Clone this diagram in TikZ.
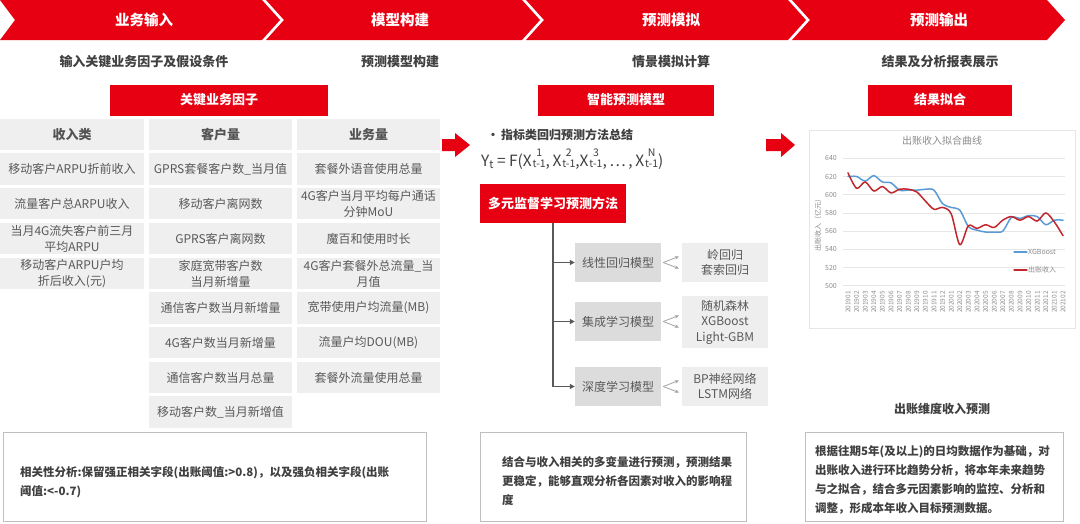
\documentclass[tikz,border=0pt]{standalone}
\usepackage{fontspec}
\setmainfont{Noto Sans CJK SC}
\usetikzlibrary{arrows.meta}
\definecolor{hred}{HTML}{E60012}
\definecolor{cellgray}{HTML}{EFEFEF}
\definecolor{modelgray}{HTML}{DCDCDC}
\definecolor{rgray}{HTML}{EEEEEE}
\definecolor{txtgray}{HTML}{595959}
\definecolor{darkt}{HTML}{404040}
\definecolor{bordergray}{HTML}{BFBFBF}
\definecolor{cblue}{HTML}{5B9BD5}
\definecolor{cred}{HTML}{C1272D}
\definecolor{gridgray}{HTML}{E6E6E6}
\definecolor{axgray}{HTML}{8C8C8C}
\newcommand\xsub[1]{X\hspace{0.8pt}{\fontsize{10.5}{10.5}\selectfont\setbox0\hbox{t-1}\rlap{\hbox to \wd0{\hss\raisebox{9.5pt}{#1}\hss}}\raisebox{-1.8pt}{t-1}}}
\tikzset{
  chev/.style={fill=hred, draw=none},
  hdr/.style={text=white, font=\fontsize{14.5}{16}\selectfont\bfseries},
  subt/.style={text=darkt, font=\fontsize{13}{15}\selectfont\bfseries},
  redbox/.style={fill=hred, text=white, font=\fontsize{13}{15}\selectfont\bfseries, inner sep=0pt, minimum height=31pt},
  cell/.style={fill=cellgray, text=txtgray, minimum height=31.5pt, inner sep=1pt, align=center, font=\fontsize{12}{16}\selectfont},
  c1/.style={cell, minimum width=144pt},
  c2/.style={cell, minimum width=143pt},
  headcell/.style={font=\fontsize{13}{16}\selectfont\bfseries, text=darkt!90},
  blockarrow/.style={fill=hred, draw=none},
  model/.style={fill=modelgray, text=txtgray, minimum width=86pt, minimum height=39pt, inner sep=1pt, font=\fontsize{12}{15}\selectfont},
  rbox/.style={fill=rgray, text=txtgray, minimum width=86pt, inner sep=1pt, align=center, font=\fontsize{12}{15.5}\selectfont},
  trunk/.style={draw=txtgray, line width=1.3pt},
  trunkarrow/.style={trunk, -{Triangle[length=5pt,width=5pt]}},
  thinarrow/.style={draw=axgray!80, line width=0.8pt, -{Stealth[length=4pt,width=3.5pt]}},
  bbox/.style={draw=bordergray, line width=0.9pt, fill=white, inner sep=0pt},
  btext/.style={text=darkt, align=left, font=\fontsize{11.5}{19}\selectfont\bfseries, inner sep=0pt, anchor=west},
  ylab/.style={text=axgray, font=\fontsize{7}{8}\selectfont, inner sep=0pt},
  xlab/.style={text=axgray, font=\fontsize{6.5}{7}\selectfont, inner sep=0pt, rotate=90, anchor=east},
  series/.style={line width=1.5pt, line join=round, line cap=round},
}
\begin{document}
\begin{tikzpicture}[x=1pt,y=-1pt]
\useasboundingbox (0,0) rectangle (1080,523);
\fill[white] (0,0) rectangle (1080,523);
% header chevrons
\path[chev] (0,0) -- (262,0) -- (280,20) -- (262,40) -- (0,40) -- (15,20) -- cycle;
\path[chev] (266,0) -- (522,0) -- (540,20) -- (522,40) -- (266,40) -- (284,20) -- cycle;
\path[chev] (526,0) -- (788,0) -- (806,20) -- (788,40) -- (526,40) -- (544,20) -- cycle;
\path[chev] (792,0) -- (1047,0) -- (1065,20) -- (1047,40) -- (792,40) -- (810,20) -- cycle;
\node[hdr] (h1) at (144,20) {业务输入};
\node[hdr] (h2) at (400,20) {模型构建};
\node[hdr] (h3) at (671,20) {预测模拟};
\node[hdr] (h4) at (939,20) {预测输出};
% subtitles
\node[subt] (s1) at (144,62) {输入关键业务因子及假设条件};
\node[subt] (s2) at (400,62) {预测模型构建};
\node[subt] (s3) at (671,62) {情景模拟计算};
\node[subt] (s4) at (940,62) {结果及分析报表展示};
% red title boxes
\node[redbox, minimum width=218pt] (r1) at (219,100) {关键业务因子};
\node[redbox, minimum width=176pt] (r2) at (626,100) {智能预测模型};
\node[redbox, minimum width=144pt] (r3) at (940,100) {结果拟合};
% table
\node[c1, headcell] (a0) at (72,134.5) {收入类};
\node[c1] (a1) at (72,169) {移动客户ARPU折前收入};
\node[c1] (a2) at (72,203.5) {流量客户总ARPU收入};
\node[c1] (a3) at (72,238.5) {当月4G流失客户前三月\\平均ARPU};
\node[c1] (a4) at (72,273.5) {移动客户ARPU户均\\折后收入(元)};
\node[c2, headcell] (b0) at (220.5,134.5) {客户量};
\node[c2] (b1) at (220.5,169) {GPRS套餐客户数\_当月值};
\node[c2] (b2) at (220.5,203.5) {移动客户离网数};
\node[c2] (b3) at (220.5,238.5) {GPRS客户离网数};
\node[c2] (b4) at (220.5,273.5) {家庭宽带客户数\\当月新增量};
\node[c2] (b5) at (220.5,308) {通信客户数当月新增量};
\node[c2] (b6) at (220.5,342.5) {4G客户数当月新增量};
\node[c2] (b7) at (220.5,377.5) {通信客户数当月总量};
\node[c2] (b8) at (220.5,412) {移动客户数\_当月新增值};
\node[c2, headcell] (d0) at (368.5,134.5) {业务量};
\node[c2] (d1) at (368.5,169) {套餐外语音使用总量};
\node[c2] (d2) at (368.5,203.5) {4G客户当月平均每户通话\\分钟MoU};
\node[c2] (d3) at (368.5,238.5) {魔百和使用时长};
\node[c2] (d4) at (368.5,273.5) {4G客户套餐外总流量\_当\\月值};
\node[c2] (d5) at (368.5,308) {宽带使用户均流量(MB)};
\node[c2] (d6) at (368.5,342.5) {流量户均DOU(MB)};
\node[c2] (d7) at (368.5,377.5) {套餐外流量使用总量};
% block arrows
\path[blockarrow] (442,139) -- (455,139) -- (455,133) -- (470,145) -- (455,157) -- (455,151) -- (442,151) -- cycle;
\path[blockarrow] (766,139) -- (781,139) -- (781,133) -- (795,145) -- (781,157) -- (781,151) -- (766,151) -- cycle;
% middle panel
\node[text=darkt, font=\fontsize{12}{14}\selectfont\bfseries, anchor=west, inner sep=0pt] (bul) at (487,135) {·\,指标类回归预测方法总结};
\node[text=darkt, font=\fontsize{15.5}{18}\selectfont, anchor=base west, inner sep=0pt] (form) at (481,166) {Y\raisebox{-2pt}{\fontsize{11}{11}\selectfont t} = F(\xsub{1},\,\xsub{2},\xsub{3},\,…\,,\,\xsub{N})};
\node[redbox, minimum width=146pt, minimum height=39pt] (meth) at (553,203.5) {多元监督学习预测方法};
\node[model] (m1) at (618,262.5) {线性回归模型};
\node[model] (m2) at (618,321.5) {集成学习模型};
\node[model] (m3) at (618,386.5) {深度学习模型};
\node[rbox, minimum height=39pt] (q1) at (725,262.5) {岭回归\\套索回归};
\node[rbox, minimum height=52pt] (q2) at (725,322) {随机森林\\XGBoost\\Light-GBM};
\node[rbox, minimum height=39pt] (q3) at (725,386.5) {BP神经网络\\LSTM网络};
\draw[trunk] (meth.south) -- (meth.south |- m3.west);
\draw[trunkarrow] (meth.south |- m1.west) -- (m1.west);
\draw[trunkarrow] (meth.south |- m2.west) -- (m2.west);
\draw[trunkarrow] (meth.south |- m3.west) -- (m3.west);
\foreach \m/\q in {m1/q1,m2/q2,m3/q3}{
  \draw[thinarrow] ([xshift=2pt]\m.east) -- ([shift={(-3,-6)}]\m.east -| \q.west);
  \draw[thinarrow] ([xshift=2pt]\m.east) -- ([shift={(-3,6)}]\m.east -| \q.west);
}
% chart
\node[draw=gridgray, line width=0.8pt, minimum width=266pt, minimum height=198pt, inner sep=0pt] (frame) at (942,229) {};
\node[text=axgray, font=\fontsize{10}{12}\selectfont, inner sep=0pt] (ctitle) at (942,141) {出账收入拟合曲线};
\foreach \v [count=\k from 0] in {500,520,540,560,580,600,620,640}{
  \draw[gridgray, line width=0.6pt] (843,285.7-\k*18.2) -- (1065,285.7-\k*18.2);
  \node[ylab] (yl\k) at (831,285.7-\k*18.2) {\v};
}
\node[ylab, rotate=90] (ytitle) at (818,223) {出账收入（亿元）};
\foreach \lab [count=\i from 0] in {201901,201902,201903,201904,201905,201906,201907,201908,201909,201910,201911,201912,202001,202002,202003,202004,202005,202006,202007,202008,202009,202010,202011,202012,202101,202102}{
  \node[xlab] (xl\i) at (848+\i*8.6,291) {\lab};
}
\begin{scope}[shift={(848,285.7)}, x=8.6pt, y=0.91pt]
\draw[series, cblue] plot[smooth, tension=0.5] coordinates {(0,120) (1,120) (2,115) (3,121) (4,114) (5,113) (6,105) (7,105) (8,105) (9,106) (10,105) (11,90) (12,86) (13,83) (14,65) (15,61) (16,59) (17,59) (18,60) (19,75) (20,74) (21,77) (22,76) (23,67) (24,72) (25,72)};
\draw[series, cred] plot[smooth, tension=0.5] coordinates {(0,124) (1,107) (2,114) (3,104) (4,109) (5,102) (6,106) (7,106) (8,103) (9,93) (10,84) (11,86) (12,79) (13,45) (14,66) (15,63) (16,67) (17,64) (18,72) (19,76) (20,72) (21,76) (22,71) (23,80) (24,70) (25,55)};
\end{scope}
\coordinate (lg1a) at (1014,252);
\coordinate (lg1b) at (1027,252);
\draw[series, cblue, line width=1.2pt] (lg1a) -- (lg1b);
\node[ylab, anchor=west, font=\fontsize{7}{8}\selectfont] (lgt1) at (1028,252) {XGBoost};
\coordinate (lg2a) at (1014,270);
\coordinate (lg2b) at (1027,270);
\draw[series, cred, line width=1.2pt] (lg2a) -- (lg2b);
\node[ylab, anchor=west, font=\fontsize{7}{8}\selectfont] (lgt2) at (1028,270) {出账收入};
\node[text=darkt, font=\fontsize{12}{14}\selectfont\bfseries] (cap) at (942,409) {出账维度收入预测};
% bottom boxes
\node[bbox, minimum width=423pt, minimum height=89pt] (bb1) at (214.5,476.5) {};
\node[btext] (bt1) at (20,482) {相关性分析:保留强正相关字段(出账阈值:>0.8)，以及强负相关字段(出账\\阈值:<-0.7)};
\node[bbox, minimum width=266pt, minimum height=89pt] (bb2) at (613,476.5) {};
\node[btext] (bt2) at (502,481) {结合与收入相关的多变量进行预测，预测结果\\更稳定，能够直观分析各因素对收入的影响程\\度};
\node[bbox, minimum width=258pt, minimum height=89pt] (bb3) at (934,476.5) {};
\node[btext] (bt3) at (815,480) {根据往期5年(及以上)的日均数据作为基础，对\\出账收入进行环比趋势分析，将本年未来趋势\\与之拟合，结合多元因素影响的监控、分析和\\调整，形成本年收入目标预测数据。};
\end{tikzpicture}
\end{document}
